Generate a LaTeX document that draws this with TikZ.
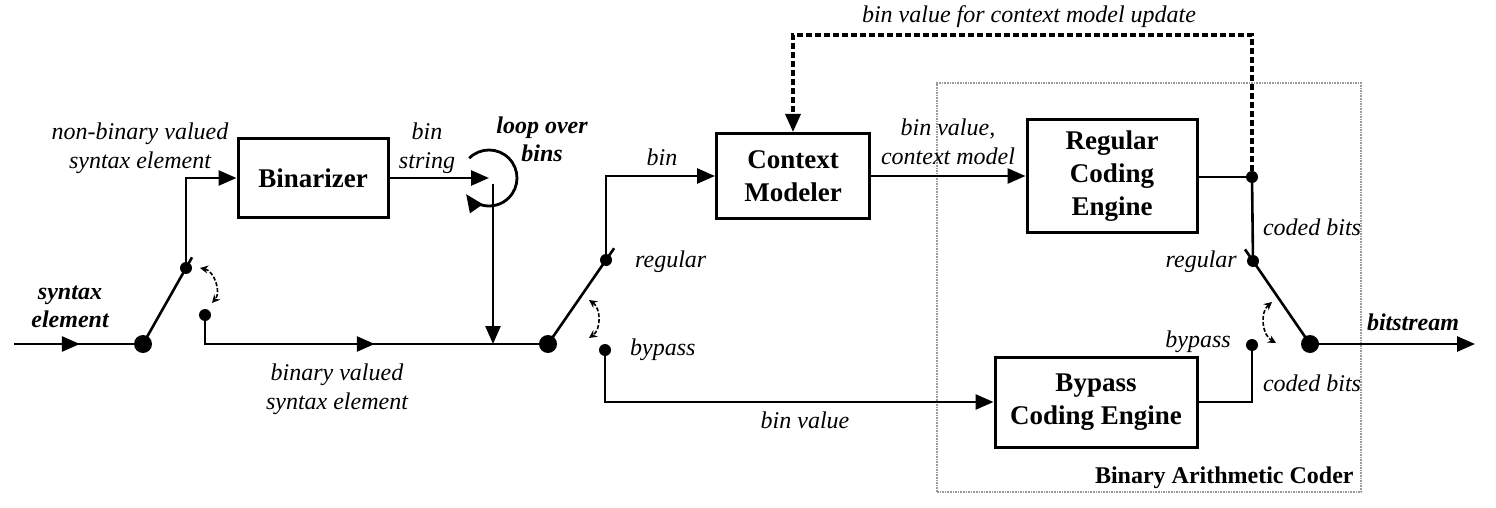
\documentclass[tikz,border=0pt]{standalone}
\usepackage{fontspec}
\setmainfont{Liberation Serif}
\usetikzlibrary{arrows.meta,calc,decorations.markings}

\begin{document}
\begin{tikzpicture}[x=1pt, y=1pt,
    box/.style={draw, rectangle, line width=3pt, align=center, font=\fontsize{27}{33}\selectfont\bfseries},
    wire/.style={line width=2.6pt},
    tip/.style={-{Triangle[length=18pt, width=15pt]}},
    bigdot/.style={circle, fill, inner sep=0pt, minimum size=18pt},
    smalldot/.style={circle, fill, inner sep=0pt, minimum size=12pt},
    txt/.style={align=center, inner sep=1pt, font=\fontsize{24}{29}\selectfont\itshape},
    bold/.style={align=center, inner sep=1pt, font=\fontsize{24}{28}\selectfont\bfseries\itshape},
    midarrow/.style={postaction={decorate}, decoration={markings, mark=at position #1 with {\arrow{Triangle[length=18pt, width=15pt]}}}},
    toggle/.style={dash pattern=on 4pt off 2pt, line width=1.6pt, {Stealth[length=8pt, width=8pt]}-{Stealth[length=8pt, width=8pt]}},
    update/.style={line width=3.2pt, dash pattern=on 6pt off 3pt},
    frame/.style={draw=gray!80, densely dotted, line width=1.6pt, inner sep=0pt}]

\useasboundingbox (0,0) rectangle (1496,-508);

\node[frame, minimum width=424pt, minimum height=409pt] (bac) at (1149,-287.5) {};
\node[anchor=south east, inner sep=2pt, font=\fontsize{24}{28}\selectfont\bfseries] (bacl) at ($(bac.south east)+(-6,2)$) {Binary Arithmetic Coder};

\node[box, minimum width=150pt, minimum height=79pt] (binz) at (313,-178) {Binarizer};
\node[box, minimum width=153pt, minimum height=85pt] (ctx) at (793,-176) {Context\\Modeler};
\node[box, minimum width=170pt, minimum height=112pt] (reg) at (1112,-176) {Regular\\Coding\\Engine};
\node[box, minimum width=202pt, minimum height=90pt] (byp) at (1096,-402) {Bypass\\Coding Engine};

\coordinate (in) at (14,-344);
\node[bigdot] (s1) at (143,-344) {};
\node[smalldot] (s1a) at (186,-268) {};
\node[smalldot] (s1b) at (205,-315) {};
\coordinate (loop) at (489,-178);
\coordinate (loopbot) at (493,-184);
\coordinate (merge) at (493,-344);
\node[bigdot] (s2) at (548,-344) {};
\node[smalldot] (s2a) at (606,-260) {};
\node[smalldot] (s2b) at (605,-350) {};
\node[smalldot] (j) at (1252,-177) {};
\coordinate (upd) at (1252,-35);
\node[smalldot] (s3a) at (1253,-261) {};
\node[smalldot] (s3b) at (1252,-345) {};
\node[bigdot] (s3) at (1310,-344) {};
\coordinate (out) at (1475,-344);

\draw[wire, midarrow=0.55] (in) -- (s1);
\draw[wire] (s1.center) -- ($(s1.center)!1.14!(s1a.center)$);
\draw[wire, tip] (s1a) |- (binz.west);
\draw[wire, midarrow=0.54] (s1b) |- (s2);
\draw[wire, tip] (binz.east) -- (binz.east -| loop);
\draw[wire, line width=2.8pt, tip] ([shift={(135:28)}]loop) arc[start angle=135, end angle=-145, radius=28];
\draw[wire, tip] (loopbot) -- (merge);
\draw[wire] (s2.center) -- ($(s2.center)!1.14!(s2a.center)$);
\draw[wire, tip] (s2a) |- (ctx.west);
\draw[wire, tip] (s2b) |- (byp.west);
\draw[wire, tip] (ctx.east) -- (ctx.east -| reg.west);
\draw[wire] (reg.east |- j) -- (j);
\draw[wire] (j) -- (s3a);
\draw[wire] (byp.east) -| (s3b);
\draw[wire] (s3.center) -- ($(s3.center)!1.14!(s3a.center)$);
\draw[wire, line width=2.8pt, tip] (s3) -- (out);
\draw[update, tip] (j) -- (upd) -| (ctx.north);

\draw[toggle] (200,-268) to[bend left=60] (212,-303);
\draw[toggle] (589,-300) to[bend left=55] (589,-338);
\draw[toggle] (1272,-302) to[bend right=55] (1276,-343);

\node[bold] (synl) at (70,-307) {syntax\\element};
\node[txt] (nbl) at (140,-148) {non-binary valued\\syntax element};
\node[txt] (bsl) at (427,-148) {bin\\string};
\node[bold] (loopl) at (542,-139) {loop over\\bins};
\node[txt] (bvl) at (337,-389) {binary valued\\syntax element};
\node[txt] (binl) at (662,-157) {bin};
\node[txt, anchor=west] (regl) at (634,-262) {regular};
\node[txt, anchor=west] (bypl) at (629,-350) {bypass};
\node[txt] (cml) at (948,-142) {bin value,\\context model};
\node[txt] (bval) at (805,-420) {bin value};
\node[txt] (updl) at (1029,-17) {bin value for context model update};
\node[txt] (cb1) at (1312,-227) {coded bits};
\node[txt] (cb2) at (1312,-383) {coded bits};
\node[txt, anchor=east] (regr) at (1238,-262) {regular};
\node[txt, anchor=east] (bypr) at (1232,-342) {bypass};
\node[bold] (bsl2) at (1413,-322) {bitstream};
\end{tikzpicture}
\end{document}
